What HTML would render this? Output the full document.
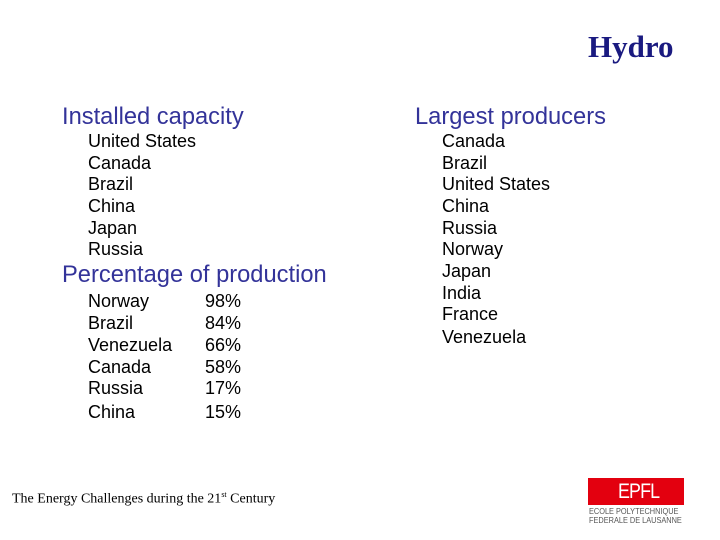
<!DOCTYPE html>
<html><head><meta charset="utf-8">
<style>
body{margin:0;width:720px;height:540px;background:#fff;position:relative;overflow:hidden;font-family:"Liberation Sans",sans-serif}
.t{position:absolute;white-space:nowrap;line-height:1}
.h{color:#333399;font-size:23.7px}
.i{color:#000;font-size:18px}
</style></head><body>
<div class="t" style="left:588px;top:31px;font-family:'Liberation Serif',serif;font-weight:bold;font-size:31px;color:#1a1a80">Hydro</div>

<div class="t h" style="left:62px;top:106px">Installed capacity</div>
<div>
<div class="t i" style="left:88px;top:132px">United States</div>
<div class="t i" style="left:88px;top:154px">Canada</div>
<div class="t i" style="left:88px;top:175px">Brazil</div>
<div class="t i" style="left:88px;top:197px">China</div>
<div class="t i" style="left:88px;top:219px">Japan</div>
<div class="t i" style="left:88px;top:240px">Russia</div>
</div>

<div class="t h" style="left:62px;top:264px">Percentage of production</div>
<div>
<div class="t i" style="left:88px;top:292px">Norway</div>
<div class="t i" style="left:88px;top:314px">Brazil</div>
<div class="t i" style="left:88px;top:336px">Venezuela</div>
<div class="t i" style="left:88px;top:358px">Canada</div>
<div class="t i" style="left:88px;top:379px">Russia</div>
<div class="t i" style="left:88px;top:403px">China</div>
<div class="t i" style="left:205px;top:292px">98%</div>
<div class="t i" style="left:205px;top:314px">84%</div>
<div class="t i" style="left:205px;top:336px">66%</div>
<div class="t i" style="left:205px;top:358px">58%</div>
<div class="t i" style="left:205px;top:379px">17%</div>
<div class="t i" style="left:205px;top:403px">15%</div>
</div>

<div class="t h" style="left:415px;top:106px">Largest producers</div>
<div>
<div class="t i" style="left:442px;top:132px">Canada</div>
<div class="t i" style="left:442px;top:154px">Brazil</div>
<div class="t i" style="left:442px;top:175px">United States</div>
<div class="t i" style="left:442px;top:197px">China</div>
<div class="t i" style="left:442px;top:219px">Russia</div>
<div class="t i" style="left:442px;top:240px">Norway</div>
<div class="t i" style="left:442px;top:262px">Japan</div>
<div class="t i" style="left:442px;top:284px">India</div>
<div class="t i" style="left:442px;top:305px">France</div>
<div class="t i" style="left:442px;top:328px">Venezuela</div>
</div>

<div class="t" style="left:12px;top:491px;font-family:'Liberation Serif',serif;font-size:14px;color:#000">The Energy Challenges during the 21<sup style="font-size:8px">st</sup> Century</div>

<div style="position:absolute;left:588px;top:478px;width:96px;height:27px;background:#e3000f">
<div class="t" style="left:30px;top:3px;color:#fff;font-size:21px;letter-spacing:-1px;transform:scaleX(0.85);transform-origin:left">EPFL</div>
</div>
<div class="t" style="left:589px;top:508px;font-size:8px;color:#555;transform:scaleX(0.92);transform-origin:left">ECOLE POLYTECHNIQUE</div>
<div class="t" style="left:589px;top:517px;font-size:8px;color:#555;transform:scaleX(0.92);transform-origin:left">FEDERALE DE LAUSANNE</div>
</body></html>
